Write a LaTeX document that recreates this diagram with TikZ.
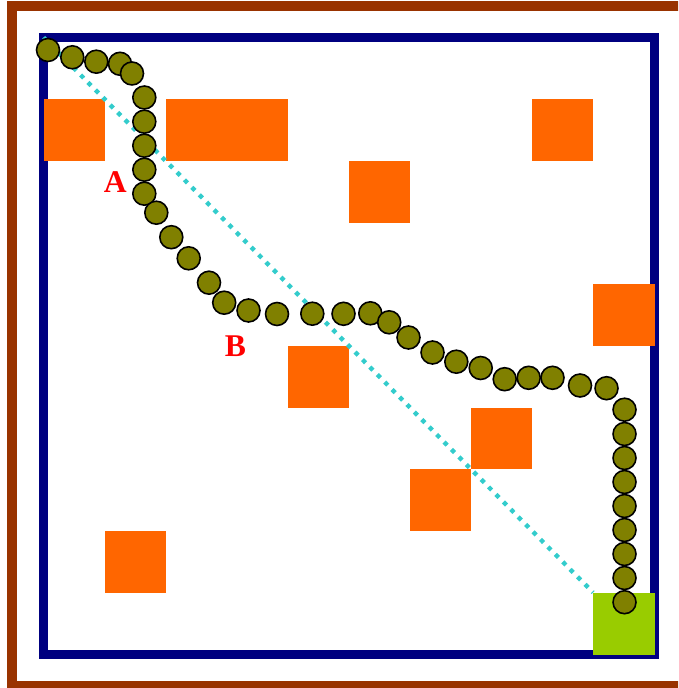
\documentclass[tikz,border=0pt]{standalone}
\usepackage{fontspec}
\setmainfont{Liberation Serif}
\usetikzlibrary{positioning}
\definecolor{wallBrown}{HTML}{993300}
\definecolor{gridNavy}{HTML}{000080}
\definecolor{obsOrange}{HTML}{FF6600}
\definecolor{goalGreen}{HTML}{99CC00}
\definecolor{beadOlive}{HTML}{808000}
\definecolor{lineCyan}{HTML}{33CCCC}

\begin{document}
\begin{tikzpicture}[
  x=0.02cm, y=-0.02cm,
  cell/.style={inner sep=0pt, minimum width=1.222cm, minimum height=1.234cm},
  obstacle/.style={cell, fill=obsOrange},
  goalcell/.style={cell, fill=goalGreen},
  bead/.style={circle, draw=black, line width=0.9pt, fill=beadOlive,
               inner sep=0pt, minimum size=0.46cm},
  tag/.style={text=red, font=\fontsize{18}{18}\selectfont\bfseries, inner sep=0pt},
  straight/.style={lineCyan, line width=2.5pt, dash pattern=on 2.5pt off 3.5pt},
]
  \useasboundingbox (0,0) rectangle (678,688);
  \clip (0,0) rectangle (678,688);

  % walls
  \draw[wallBrown, line width=5.9pt] (12.3,6.3) rectangle (684,685.7);
  \draw[gridNavy, line width=4.8pt] (43.5,37.5) rectangle (654.6,654.5);

  % obstacles on the 10x10 grid (column/row)
  \foreach \c/\r [count=\k] in {0/1, 2/1, 3/1, 8/1, 5/2, 9/4, 4/5, 7/6, 6/7, 1/8}
    \node[obstacle] (obs\k) at ({43.5+61.1*(\c+0.5)}, {37.5+61.7*(\r+0.5)}) {};
  \node[goalcell] (goal) at ({43.5+61.1*9.5}, {37.5+61.7*9.5}) {};
  \coordinate (start) at (43.5,37.5);

  % straight line start -- goal
  \draw[straight] (start) -- (goal.north west);

  % path of the robot
  \foreach \x/\y [count=\i] in {48/50, 72.3/57.3, 96.3/61.7, 120/63.8, 132/73.5,
      144.3/97.5, 144.3/121.7, 144.3/145.7, 144.3/169.7, 144.3/193.7,
      156.3/212.7, 171.3/237.2, 188.7/258.3, 209/282.7, 224.2/302.7,
      248.5/310.5, 277/314, 312.3/313.7, 343.5/313.8, 370.3/313.3,
      389.2/322.3, 408.5/337.5, 432.5/352.5, 456.3/361.7, 480.7/368,
      504.7/379.2, 528.7/377.8, 552.5/377.8, 580/385.5, 606.5/388.2,
      624.5/409.7, 624.5/434, 624.5/458, 624.5/482, 624.5/506,
      624.5/530, 624.5/554, 624.5/578, 624.5/602.2}
    \node[bead] (b\i) at (\x,\y) {};

  \node[tag] (tagA) at (115.3,182.2) {A};
  \node[tag] (tagB) at (235.5,346.5) {B};
\end{tikzpicture}
\end{document}
